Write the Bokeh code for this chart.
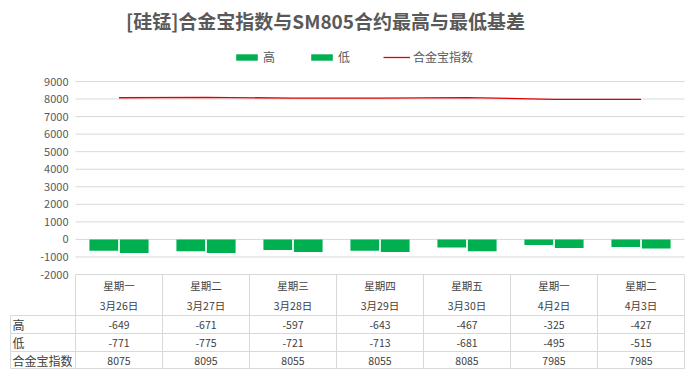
from bokeh.plotting import figure
from bokeh.models import Range1d, ColumnDataSource, Legend, LegendItem
from bokeh.core.properties import value
from bokeh.embed import file_html
from bokeh.resources import INLINE

# ---------------- data ----------------
title_text = "[硅锰]合金宝指数与SM805合约最高与最低基差"
weekdays = ["星期一", "星期二", "星期三", "星期四", "星期五", "星期一", "星期二"]
dates = ["3月26日", "3月27日", "3月28日", "3月29日", "3月30日", "4月2日", "4月3日"]
high = [-649, -671, -597, -643, -467, -325, -427]
low = [-771, -775, -721, -713, -681, -495, -515]
index_vals = [8075, 8095, 8055, 8055, 8085, 7985, 7985]
series_names = ["高", "低", "合金宝指数"]
y_ticks = list(range(-2000, 9001, 1000))

# ---------------- layout helpers (pixel -> data) ----------------
W, H = 695, 377
CAT_PX = 87.0
X0_PX = 75.0
Y_TOP_VAL, Y_TOP_PX = 9000.0, 81.0
Y_BOT_VAL, Y_BOT_PX = -2000.0, 274.0
SY = (Y_BOT_PX - Y_TOP_PX) / (Y_TOP_VAL - Y_BOT_VAL)


def dx(px):
    return (px - X0_PX) / CAT_PX


def dy(py):
    return Y_TOP_VAL - (py - Y_TOP_PX) / SY


FONT = "Noto Sans CJK SC"
GREEN = "#00B050"
RED = "#E00000"
GRID = "#D9D9D9"
TXT = "#404040"
AX = "#595959"

n = len(weekdays)
centers = [i + 0.5 for i in range(n)]

p = figure(width=W, height=H,
           x_range=Range1d(dx(0), dx(W)), y_range=Range1d(dy(H), dy(0)),
           output_backend="svg", toolbar_location=None,
           x_axis_location=None, y_axis_location=None,
           min_border=0, min_border_left=0, min_border_right=0,
           min_border_top=0, min_border_bottom=0)
p.grid.visible = False
p.outline_line_color = None
p.background_fill_color = "white"

# gridlines
p.segment(x0=[0] * len(y_ticks), x1=[n] * len(y_ticks), y0=y_ticks, y1=y_ticks,
          line_color=GRID, line_width=1)

# y tick labels
p.text(x=[dx(68)] * len(y_ticks), y=y_ticks, text=[str(t) for t in y_ticks],
       text_align="right", text_baseline="middle",
       text_font=value(FONT), text_font_size="11px", text_color=AX)

# bars
src = ColumnDataSource(dict(xh=[c - 0.175 for c in centers], xl=[c + 0.175 for c in centers],
                            x=centers, high=high, low=low, idx=index_vals))
r_high = p.vbar(x="xh", top="high", bottom=0, width=0.33, source=src,
                fill_color=GREEN, line_color=None)
r_low = p.vbar(x="xl", top="low", bottom=0, width=0.33, source=src,
               fill_color=GREEN, line_color=None)
r_line = p.line(x="x", y="idx", source=src, line_color=RED, line_width=1.3)

# ---------------- data table ----------------
# header box top line
p.segment(x0=[0], x1=[n], y0=[dy(274)], y1=[dy(274)], line_color=GRID, line_width=1)
# vertical category separators
vx = list(range(n + 1))
p.segment(x0=vx, x1=vx, y0=[dy(274)] * len(vx), y1=[dy(368)] * len(vx),
          line_color=GRID, line_width=1)
# row lines
row_py = [315, 333, 351, 368]
p.segment(x0=[dx(10)] * len(row_py), x1=[n] * len(row_py),
          y0=[dy(v) for v in row_py], y1=[dy(v) for v in row_py],
          line_color=GRID, line_width=1)
p.segment(x0=[dx(10)], x1=[dx(10)], y0=[dy(315)], y1=[dy(368)],
          line_color=GRID, line_width=1)

# header texts
p.text(x=centers, y=[dy(285)] * n, text=weekdays, text_align="center", text_baseline="middle",
       text_font=value(FONT), text_font_size="10.5px", text_color=TXT)
p.text(x=centers, y=[dy(305)] * n, text=dates, text_align="center", text_baseline="middle",
       text_font=value(FONT), text_font_size="10.5px", text_color=TXT)

# row labels
row_centers = [324, 342, 360]
p.text(x=[dx(12)] * 3, y=[dy(v) for v in row_centers], text=series_names,
       text_align="left", text_baseline="middle",
       text_font=value(FONT), text_font_size="12px", text_color=TXT)

# row values
for vals, cy in zip([high, low, index_vals], row_centers):
    p.text(x=centers, y=[dy(cy)] * n, text=[str(v) for v in vals],
           text_align="center", text_baseline="middle",
           text_font=value(FONT), text_font_size="10.5px", text_color=TXT)

# title
p.text(x=[dx(325)], y=[dy(20)], text=[title_text], text_align="center", text_baseline="middle",
       text_font=value(FONT), text_font_size="19px", text_font_style="bold", text_color=AX)

# legend
legend = Legend(items=[LegendItem(label=series_names[0], renderers=[r_high]),
                       LegendItem(label=series_names[1], renderers=[r_low]),
                       LegendItem(label=series_names[2], renderers=[r_line])],
                orientation="horizontal", location=(233, H - 57 - 8),
                glyph_width=27, glyph_height=8, label_height=8, label_width=10,
                label_standoff=3, spacing=33, padding=0, margin=0,
                border_line_color=None, background_fill_alpha=0,
                label_text_font=FONT, label_text_font_size="12px", label_text_color=AX)
p.add_layout(legend, "center")

open("out.html", "w").write(file_html(p, INLINE))
